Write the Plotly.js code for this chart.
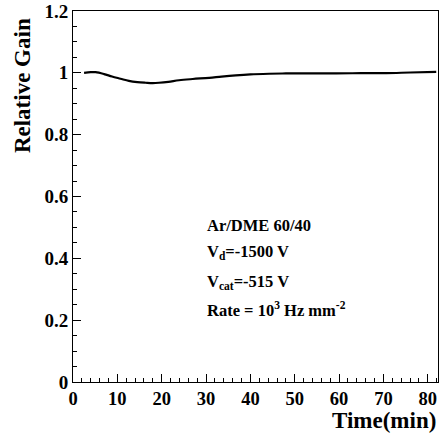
<!DOCTYPE html>
<html><head><meta charset="utf-8">
<script src="https://cdn.plot.ly/plotly-3.0.1.min.js"></script>
<style>html,body{margin:0;padding:0;background:#fff}</style>
</head><body><div id="chart" style="width:447px;height:433px"></div>
<script>
const timeMin = [2.5, 4, 5.1, 7, 8.8, 10.7, 12.6, 14.5, 16.4, 18, 19.4, 21.5, 23.9, 27, 30.7, 33.5, 36.7, 40, 44.2, 48, 51.7, 55, 59.3, 65, 70.6, 76, 81.9];
const relGain = [1.0, 1.002, 1.002, 0.996, 0.988, 0.981, 0.974, 0.970, 0.968, 0.967, 0.968, 0.971, 0.976, 0.980, 0.984, 0.988, 0.992, 0.995, 0.997, 0.998, 0.998, 0.998, 0.998, 0.999, 0.999, 1.001, 1.003];
const xTicks = [0, 10, 20, 30, 40, 50, 60, 70, 80];
const xTickLabels = ['0', '10', '20', '30', '40', '50', '60', '70', '80'];
const yTicks = [0, 0.2, 0.4, 0.6, 0.8, 1, 1.2];
const yTickLabels = ['0', '0.2', '0.4', '0.6', '0.8', '1', '1.2'];
const infoLines = ['Ar/DME 60/40', 'V<sub>d</sub>=-1500 V', 'V<sub>cat</sub>=-515 V', 'Rate = 10<sup>3</sup> Hz mm<sup>-2</sup>'];

const F = '"Liberation Serif", "Times New Roman", serif';
const infoY = [0.423, 0.35, 0.27, 0.195];
const annotations = infoLines.map((t, i) => ({
  text: '<b>' + t + '</b>', xref: 'paper', yref: 'paper', x: 0.362, y: infoY[i],
  xanchor: 'left', yanchor: 'middle', showarrow: false,
  font: {family: F, size: 16.5, color: '#000'}
}));
annotations.push({text: '<b>Time(min)</b>', xref: 'paper', yref: 'paper', x: 1.0, y: -0.104,
  xanchor: 'right', yanchor: 'middle', showarrow: false, font: {family: F, size: 23, color: '#000'}});
annotations.push({text: '<b>Relative Gain</b>', xref: 'paper', yref: 'paper', x: -0.14, y: 0.8,
  xanchor: 'center', yanchor: 'middle', textangle: -90, showarrow: false, font: {family: F, size: 23, color: '#000'}});

Plotly.newPlot('chart', [{
  x: timeMin, y: relGain, type: 'scatter', mode: 'lines', line: {color: '#000', width: 2.2, shape: 'spline'}, hoverinfo: 'skip'
}], {
  width: 447, height: 433,
  margin: {l: 73, r: 9, t: 11, b: 51},
  paper_bgcolor: '#fff', plot_bgcolor: '#fff',
  showlegend: false,
  xaxis: {range: [0, 82.3], tickvals: xTicks, ticktext: xTickLabels.map(s => '<b>' + s + '</b>'), ticks: 'inside', ticklen: 8, tickcolor: '#000',
    showgrid: false, zeroline: false, showline: true, linecolor: '#000', linewidth: 1, mirror: true,
    minor: {dtick: 2, ticks: 'inside', ticklen: 4, tickcolor: '#000', showgrid: false},
    tickfont: {family: F, size: 18.5, color: '#000'}},
  yaxis: {range: [0, 1.2], tickvals: yTicks, ticktext: yTickLabels.map(s => '<b>' + s + '</b>'), ticks: 'inside', ticklen: 8, tickcolor: '#000',
    showgrid: false, zeroline: false, showline: true, linecolor: '#000', linewidth: 1, mirror: true,
    minor: {dtick: 0.05, ticks: 'inside', ticklen: 4, tickcolor: '#000', showgrid: false},
    tickfont: {family: F, size: 19, color: '#000'}},
  annotations: annotations
}, {displayModeBar: false, staticPlot: true});
</script></body></html>
